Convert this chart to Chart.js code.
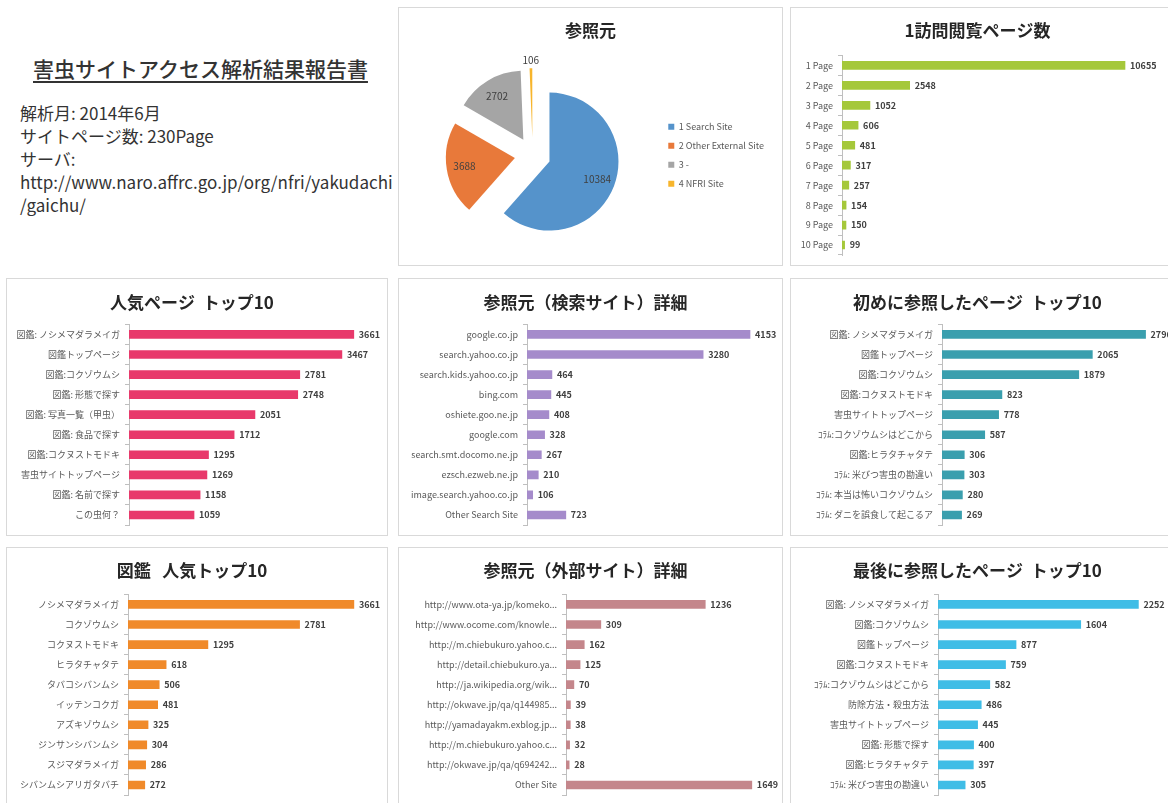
<!DOCTYPE html>
<html lang="ja">
<head>
<meta charset="utf-8">
<title>害虫サイトアクセス解析結果報告書</title>
<script src="https://cdn.jsdelivr.net/npm/chart.js@4.4.1/dist/chart.umd.min.js"></script>
<style>
  html, body { margin: 0; padding: 0; background: #fff; }
  body { position: relative; width: 1168px; height: 803px; overflow: hidden;
         font-family: "Noto Sans CJK JP", "Noto Sans", sans-serif; }
  .panel { position: absolute; outline: 1px solid #d9d9d9; outline-offset: -1px; }
  .panel canvas { position: absolute; left: 0; top: 0; }
  #info { position: absolute; left: 0; top: 0; width: 395px; height: 270px; color: #333; }
  #info .ttl { position: absolute; left: 33px; top: 53px; font-size: 21px; font-weight: 500;
               text-decoration: underline; text-underline-offset: 4px; white-space: nowrap; }
  #info .txt { position: absolute; left: 20px; top: 101px; font-size: 17px; line-height: 23px; white-space: nowrap; }
</style>
</head>
<body>

<div id="info">
  <div class="ttl">害虫サイトアクセス解析結果報告書</div>
  <div class="txt">解析月: 2014年6月<br>サイトページ数: 230Page<br>サーバ:<br>http://www.naro.affrc.go.jp/org/nfri/yakudachi<br>/gaichu/</div>
</div>

<div class="panel" style="left:398px;top:7px;width:385px;height:259px"><canvas id="pie" width="385" height="259"></canvas></div>
<div class="panel" style="left:790px;top:7px;width:385px;height:259px"><canvas id="pv" width="385" height="259"></canvas></div>
<div class="panel" style="left:6px;top:278px;width:382px;height:258px"><canvas id="pop" width="382" height="258"></canvas></div>
<div class="panel" style="left:398px;top:278px;width:385px;height:258px"><canvas id="search" width="385" height="258"></canvas></div>
<div class="panel" style="left:790px;top:278px;width:385px;height:258px"><canvas id="first" width="385" height="258"></canvas></div>
<div class="panel" style="left:6px;top:547px;width:382px;height:260px"><canvas id="zukan" width="382" height="260"></canvas></div>
<div class="panel" style="left:398px;top:547px;width:385px;height:260px"><canvas id="ext" width="385" height="260"></canvas></div>
<div class="panel" style="left:790px;top:547px;width:385px;height:260px"><canvas id="last" width="385" height="260"></canvas></div>

<script>
// --- data ---
const refLabels = ["1 Search Site", "2 Other External Site", "3 -", "4 NFRI Site"];
const refValues = [10384, 3688, 2702, 106];

const pvLabels = ["1 Page", "2 Page", "3 Page", "4 Page", "5 Page", "6 Page", "7 Page", "8 Page", "9 Page", "10 Page"];
const pvValues = [10655, 2548, 1052, 606, 481, 317, 257, 154, 150, 99];

const popLabels = ["図鑑: ノシメマダラメイガ", "図鑑トップページ", "図鑑:コクゾウムシ", "図鑑: 形態で探す", "図鑑: 写真一覧（甲虫）",
                   "図鑑: 食品で探す", "図鑑:コクヌストモドキ", "害虫サイトトップページ", "図鑑: 名前で探す", "この虫何？"];
const popValues = [3661, 3467, 2781, 2748, 2051, 1712, 1295, 1269, 1158, 1059];

const searchLabels = ["google.co.jp", "search.yahoo.co.jp", "search.kids.yahoo.co.jp", "bing.com", "oshiete.goo.ne.jp",
                      "google.com", "search.smt.docomo.ne.jp", "ezsch.ezweb.ne.jp", "image.search.yahoo.co.jp", "Other Search Site"];
const searchValues = [4153, 3280, 464, 445, 408, 328, 267, 210, 106, 723];

const firstLabels = ["図鑑: ノシメマダラメイガ", "図鑑トップページ", "図鑑:コクゾウムシ", "図鑑:コクヌストモドキ", "害虫サイトトップページ",
                     "ｺﾗﾑ:コクゾウムシはどこから", "図鑑:ヒラタチャタテ", "ｺﾗﾑ: 米びつ害虫の勘違い", "ｺﾗﾑ: 本当は怖いコクゾウムシ", "ｺﾗﾑ: ダニを誤食して起こるア"];
const firstValues = [2796, 2065, 1879, 823, 778, 587, 306, 303, 280, 269];

const zukanLabels = ["ノシメマダラメイガ", "コクゾウムシ", "コクヌストモドキ", "ヒラタチャタテ", "タバコシバンムシ",
                     "イッテンコクガ", "アズキゾウムシ", "ジンサンシバンムシ", "スジマダラメイガ", "シバンムシアリガタバチ"];
const zukanValues = [3661, 2781, 1295, 618, 506, 481, 325, 304, 286, 272];

const extLabels = ["http://www.ota-ya.jp/komeko...", "http://www.ocome.com/knowle...", "http://m.chiebukuro.yahoo.c...",
                   "http://detail.chiebukuro.ya...", "http://ja.wikipedia.org/wik...", "http://okwave.jp/qa/q144985...",
                   "http://yamadayakm.exblog.jp...", "http://m.chiebukuro.yahoo.c...", "http://okwave.jp/qa/q694242...", "Other Site"];
const extValues = [1236, 309, 162, 125, 70, 39, 38, 32, 28, 1649];

const lastLabels = ["図鑑: ノシメマダラメイガ", "図鑑:コクゾウムシ", "図鑑トップページ", "図鑑:コクヌストモドキ", "ｺﾗﾑ:コクゾウムシはどこから",
                    "防除方法・殺虫方法", "害虫サイトトップページ", "図鑑: 形態で探す", "図鑑:ヒラタチャタテ", "ｺﾗﾑ: 米びつ害虫の勘違い"];
const lastValues = [2252, 1604, 877, 759, 582, 486, 445, 400, 397, 305];

const FONT = '"Noto Sans CJK JP", "Noto Sans", sans-serif';
Chart.defaults.font.family = FONT;
Chart.defaults.animation = false;

// numbers at the end of each bar
const valueLabels = {
    id: "valueLabels",
    afterDatasetsDraw(chart) {
        const ctx = chart.ctx;
        const values = chart.data.datasets[0].data;
        ctx.save();
        ctx.font = "bold 9px " + FONT;
        ctx.fillStyle = "#404040";
        ctx.textBaseline = "middle";
        chart.getDatasetMeta(0).data.forEach((bar, i) => ctx.fillText(values[i], bar.x + 5, bar.y));
        ctx.restore();
    }
};

function barChart(id, labels, values, color, title, axisW, xMax, top) {
    new Chart(document.getElementById(id), {
        type: "bar",
        data: {
            labels: labels,
            datasets: [{ data: values, backgroundColor: color, barThickness: 8 }]
        },
        options: {
            indexAxis: "y",
            responsive: false,
            layout: { padding: { left: 0, right: 10, top: 0, bottom: top.bottom } },
            plugins: {
                legend: { display: false },
                tooltip: { enabled: false },
                title: {
                    display: true, text: title, color: "#262626",
                    font: { size: 17, weight: "bold" },
                    padding: { top: top.t, bottom: top.b }
                }
            },
            scales: {
                x: { display: false, min: 0, max: xMax },
                y: {
                    afterFit: s => { s.width = axisW; },
                    border: { color: "#bfbfbf" },
                    grid: { drawOnChartArea: false, tickLength: 4, color: "#bfbfbf" },
                    ticks: { color: "#595959", font: { size: 9 }, padding: 5, autoSkip: false }
                }
            }
        },
        plugins: [valueLabels]
    });
}

const row1 = { t: 13, b: 15, bottom: 11 };
const row2 = { t: 14, b: 12, bottom: 11 };
const row3 = { t: 13, b: 14, bottom: 12 };

barChart("pv", pvLabels, pvValues, "#a5c83a", "1訪問閲覧ページ数", 52, 12161, row1);
barChart("pop", popLabels, popValues, "#e8396b", "人気ページ  トップ10", 123, 4055, row2);
barChart("search", searchLabels, searchValues, "#a58bcb", "参照元（検索サイト）詳細", 129, 4581, row2);
barChart("first", firstLabels, firstValues, "#3a9fae", "初めに参照したページ  トップ10", 152, 3063, row2);
barChart("zukan", zukanLabels, zukanValues, "#f08a2a", "図鑑   人気トップ10", 122, 4052, row3);
barChart("ext", extLabels, extValues, "#c4868b", "参照元（外部サイト）詳細", 168, 1837, row3);
barChart("last", lastLabels, lastValues, "#3fbde6", "最後に参照したページ  トップ10", 148, 2551, row3);

// pie: every slice pulled out from the centre, numbers on the slices
const EXPLODE = 18;
const explode = {
    id: "explode",
    afterDatasetUpdate(chart, args) {
        args.meta.data.forEach(a => {
            const m = (a.startAngle + a.endAngle) / 2;
            a.x += Math.cos(m) * EXPLODE;
            a.y += Math.sin(m) * EXPLODE;
        });
    }
};
const sliceLabels = {
    id: "sliceLabels",
    afterDatasetsDraw(chart) {
        const ctx = chart.ctx;
        const values = chart.data.datasets[0].data;
        ctx.save();
        ctx.font = "10px " + FONT;
        ctx.fillStyle = "#404040";
        ctx.textAlign = "center";
        ctx.textBaseline = "middle";
        chart.getDatasetMeta(0).data.forEach((a, i) => {
            const m = (a.startAngle + a.endAngle) / 2;
            const small = a.endAngle - a.startAngle < 0.1;
            const r = small ? a.outerRadius + 8 : a.outerRadius * 0.74;
            ctx.fillText(values[i], a.x + Math.cos(m) * r, a.y + Math.sin(m) * r);
        });
        ctx.restore();
    }
};

new Chart(document.getElementById("pie"), {
    type: "pie",
    data: {
        labels: refLabels,
        datasets: [{
            data: refValues,
            backgroundColor: ["#5593cb", "#e8793a", "#a5a5a5", "#f7b52c"],
            borderWidth: 0,
            radius: 69
        }]
    },
    options: {
        responsive: false,
        layout: { padding: { left: 9, right: 9, top: 0, bottom: 0 } },
        plugins: {
            tooltip: { enabled: false },
            title: {
                display: true, text: "参照元", color: "#262626",
                font: { size: 17, weight: "bold" },
                padding: { top: 13, bottom: 4 }
            },
            legend: {
                position: "right",
                fullSize: false,
                labels: { boxWidth: 6, boxHeight: 6, padding: 10, color: "#595959", font: { size: 9 } }
            }
        }
    },
    plugins: [explode, sliceLabels]
});
</script>
</body>
</html>
